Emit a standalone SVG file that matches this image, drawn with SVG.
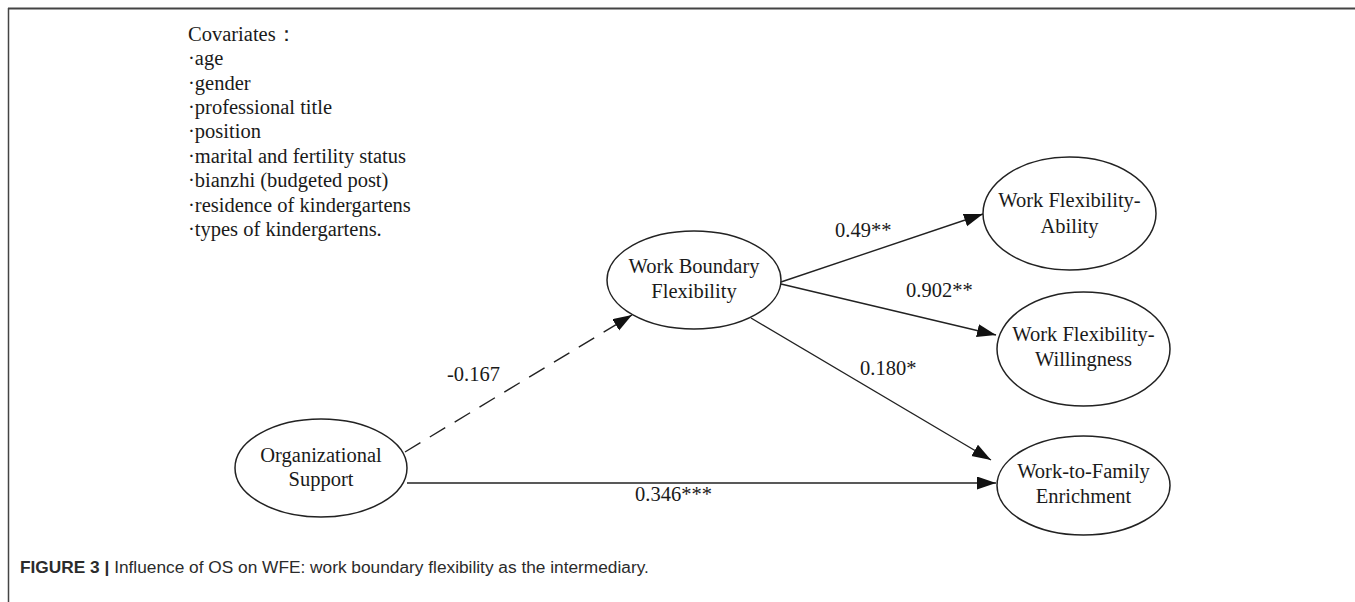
<svg xmlns="http://www.w3.org/2000/svg" width="1355" height="602" viewBox="0 0 1355 602">
  <style>
    .node ellipse { fill: #ffffff; stroke: #222222; stroke-width: 1.5; }
    .node text, .cov text, .lbl text { font-family: "Liberation Serif", "Times New Roman", serif; font-size: 20.5px; fill: #1a1a1a; }
    .node text { text-anchor: middle; }
    .edge { stroke: #222222; stroke-width: 1.4; fill: none; }
    .dashed { stroke-dasharray: 18 11; }
    .frame { stroke: #444444; fill: none; }
    .cap { font-family: "Liberation Sans", Arial, sans-serif; font-size: 17.3px; fill: #2b2b2b; }
  </style>
  <defs>
    <marker id="arrow" markerUnits="userSpaceOnUse" markerWidth="20" markerHeight="14" refX="19" refY="6.5" orient="auto">
      <path d="M0,0 L19,6.5 L0,13 z" fill="#111111"/>
    </marker>
  </defs>

  <rect width="1355" height="602" fill="#ffffff"/>

  <!-- panel frame: top and left rules -->
  <line class="frame" x1="8" y1="8.5" x2="1355" y2="8.5" stroke-width="2"/>
  <line class="frame" x1="8.5" y1="8" x2="8.5" y2="602" stroke-width="1.5"/>

  <!-- covariate list -->
  <g id="covariates" class="cov">
    <text x="188" y="41">Covariates：</text>
    <text x="188" y="65">·age</text>
    <text x="188" y="90">·gender</text>
    <text x="188" y="114">·professional title</text>
    <text x="188" y="138">·position</text>
    <text x="188" y="163">·marital and fertility status</text>
    <text x="188" y="187">·bianzhi (budgeted post)</text>
    <text x="188" y="212">·residence of kindergartens</text>
    <text x="188" y="236">·types of kindergartens.</text>
  </g>

  <!-- paths between constructs -->
  <g id="connectors">
    <line class="edge dashed" x1="405" y1="452" x2="632" y2="315" marker-end="url(#arrow)"/>
    <line class="edge" x1="781" y1="282" x2="983" y2="214" marker-end="url(#arrow)"/>
    <line class="edge" x1="781" y1="284" x2="996" y2="335" marker-end="url(#arrow)"/>
    <line class="edge" x1="751" y1="318" x2="991" y2="460" marker-end="url(#arrow)"/>
    <line class="edge" x1="407" y1="483" x2="996" y2="483" marker-end="url(#arrow)"/>
  </g>

  <!-- path coefficients -->
  <g id="labels" class="lbl">
    <text x="447" y="381">-0.167</text>
    <text x="835" y="237">0.49**</text>
    <text x="906" y="297">0.902**</text>
    <text x="860" y="375">0.180*</text>
    <text x="635" y="501">0.346***</text>
  </g>

  <g id="organizational-support" class="node">
    <ellipse cx="321" cy="468" rx="86" ry="49"/>
    <text x="321" y="462">Organizational</text>
    <text x="321" y="486">Support</text>
  </g>

  <g id="work-boundary-flexibility" class="node">
    <ellipse cx="694" cy="280" rx="87" ry="49"/>
    <text x="694" y="273">Work Boundary</text>
    <text x="694" y="298">Flexibility</text>
  </g>

  <g id="work-flexibility-ability" class="node">
    <ellipse cx="1069.5" cy="213.5" rx="86.5" ry="56.5"/>
    <text x="1069.5" y="207">Work Flexibility-</text>
    <text x="1069.5" y="233">Ability</text>
  </g>

  <g id="work-flexibility-willingness" class="node">
    <ellipse cx="1083.5" cy="349" rx="86.5" ry="57"/>
    <text x="1083.5" y="341">Work Flexibility-</text>
    <text x="1083.5" y="366">Willingness</text>
  </g>

  <g id="work-to-family-enrichment" class="node">
    <ellipse cx="1083.5" cy="485.5" rx="86.5" ry="49.5"/>
    <text x="1083.5" y="478">Work-to-Family</text>
    <text x="1083.5" y="503">Enrichment</text>
  </g>

  <!-- caption -->
  <text class="cap" x="20" y="573"><tspan font-weight="bold">FIGURE 3 |</tspan> Influence of OS on WFE: work boundary flexibility as the intermediary.</text>
</svg>
